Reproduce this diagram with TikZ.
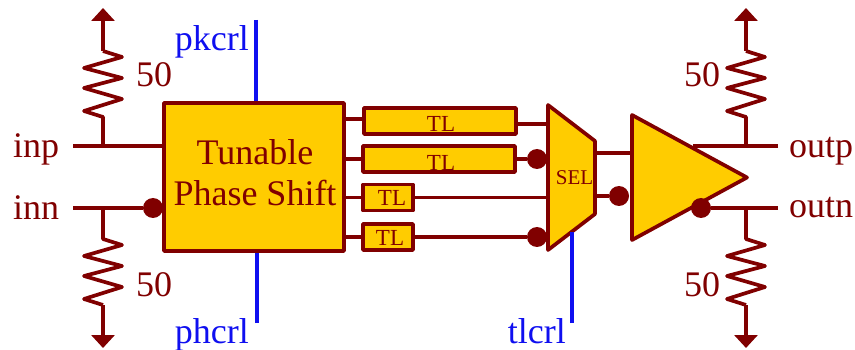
\documentclass[tikz,border=0pt]{standalone}
\usepackage{fontspec}
\setmainfont{Liberation Serif}
\usetikzlibrary{arrows.meta}
\definecolor{wirecol}{HTML}{800000}
\definecolor{boxcol}{HTML}{FFCC00}
\definecolor{ctrlcol}{HTML}{0F0FF0}
\newcommand{\reszig}{-- ++(19,6) -- ++(-38,11) -- ++(38,10) -- ++(-38,10) -- ++(38,11) -- ++(-38,12) -- ++(19,6)}
\tikzset{
  wire/.style={draw=wirecol,line width=3.7pt,line join=round},
  ctrl/.style={draw=ctrlcol,line width=3.7pt},
  rail/.style={wire,-{Triangle[width=23pt,length=13pt]}},
  block/.style={draw=wirecol,fill=boxcol,line width=3.7pt,line join=round,inner sep=0pt,text=wirecol},
  tlbox/.style={block,minimum height=26pt},
  tltext/.style={text=wirecol,anchor=base,inner sep=0pt,font=\fontsize{23}{25}\selectfont},
  dot/.style={circle,fill=wirecol,minimum size=20pt,inner sep=0pt},
  lbl/.style={text=wirecol,anchor=base west,inner sep=0pt,font=\fontsize{36}{40}\selectfont},
  ctrllbl/.style={lbl,text=ctrlcol,anchor=base east}
}
\begin{document}
\begin{tikzpicture}[x=1pt,y=-1pt]
  \useasboundingbox (0,0) rectangle (855,350);
  % blocks
  \node[block,minimum width=180pt,minimum height=148pt] (phase) at (254,177) {};
  \node[lbl,anchor=base] (tunable) at (255,165) {Tunable};
  \node[lbl,anchor=base] (shift) at (255,206) {Phase Shift};
  \node[tlbox,minimum width=152pt] (tl1) at (440,121) {};
  \node[tlbox,minimum width=152pt] (tl2) at (439,159) {};
  \node[tlbox,minimum width=50pt] (tl3) at (388,197.5) {};
  \node[tlbox,minimum width=50pt] (tl4) at (388,237) {};
  \node[tltext] (tl1t) at (441,132) {TL};
  \node[tltext] (tl2t) at (441,170.5) {TL};
  \node[tltext] (tl3t) at (392,206) {TL};
  \node[tltext] (tl4t) at (390,245) {TL};
  \coordinate (sela) at (548,105);
  \coordinate (selb) at (595,141);
  \coordinate (selc) at (595,214);
  \coordinate (seld) at (548,250);
  \draw[block] (sela) -- (selb) -- (selc) -- (seld) -- cycle;
  \node[tltext,font=\fontsize{21}{23}\selectfont] (sel) at (574.5,185) {SEL};
  \coordinate (ampa) at (632,115);
  \coordinate (ampb) at (747,177.5);
  \coordinate (ampc) at (632,240);
  \draw[block] (ampa) -- (ampb) -- (ampc) -- cycle;
  % terminals
  \node[lbl] (inp) at (13,158) {inp};
  \node[lbl] (inn) at (13,219) {inn};
  \node[lbl] (outp) at (789,158) {outp};
  \node[lbl] (outn) at (789,218) {outn};
  \node[lbl] (r1) at (136,87) {50};
  \node[lbl] (r2) at (136,296) {50};
  \node[lbl] (r3) at (684,87) {50};
  \node[lbl] (r4) at (684,296) {50};
  \node[ctrllbl] (pkcrl) at (249,51) {pkcrl};
  \node[ctrllbl] (phcrl) at (249,343) {phcrl};
  \node[ctrllbl] (tlcrl) at (566,343) {tlcrl};
  \coordinate (inpw) at (73,146);
  \coordinate (innw) at (73,208);
  \coordinate (outpw) at (778,146);
  \coordinate (outnw) at (778,208);
  \coordinate (inpj) at (103,146);
  \coordinate (innj) at (103,208);
  \coordinate (outpj) at (746,146);
  \coordinate (outnj) at (746,208);
  \coordinate (r1t) at (103,51);
  \coordinate (r2t) at (103,239);
  \coordinate (r3t) at (746,51);
  \coordinate (r4t) at (746,239);
  \coordinate (r2b) at (103,305);
  \coordinate (r4b) at (746,305);
  \coordinate (vp1) at (103,8);
  \coordinate (vp2) at (746,8);
  \coordinate (vn1) at (103,348);
  \coordinate (vn2) at (746,348);
  \coordinate (pkend) at (256,20);
  \coordinate (phend) at (257,323);
  \coordinate (tlend) at (572,323);
  \coordinate (seltap) at (572,232);
  \coordinate (ampo) at (693,146);
  \coordinate (selo) at (595,153);
  \coordinate (seln) at (595,196);
  \node[dot] (dinn) at (153,208) {};
  \node[dot] (dtl2) at (537,159) {};
  \node[dot] (dtl4) at (537,237) {};
  \node[dot] (dsel) at (619,196) {};
  \node[dot] (dout) at (701,208) {};
  % wires
  \draw[wire] (inpw) -- (inpw -| phase.west);
  \draw[wire] (innw) -- (dinn);
  \draw[wire] (outpw) -- (ampo);
  \draw[wire] (outnw) -- (dout);
  \draw[wire] (r1t) \reszig -- (inpj);
  \draw[wire] (innj) -- (r2t) \reszig;
  \draw[wire] (r3t) \reszig -- (outpj);
  \draw[wire] (outnj) -- (r4t) \reszig;
  \draw[rail] (r1t) -- (vp1);
  \draw[rail] (r3t) -- (vp2);
  \draw[rail] (r2b) -- (vn1);
  \draw[rail] (r4b) -- (vn2);
  \draw[wire] ([yshift=2pt]tl1.west) -- ([yshift=2pt]tl1.west -| phase.east);
  \draw[wire] (tl2.west) -- (tl2.west -| phase.east);
  \draw[wire] (tl3.west) -- (tl3.west -| phase.east);
  \draw[wire] (tl4.west) -- (tl4.west -| phase.east);
  \draw[wire] ([yshift=-3pt]tl1.east) -- ([yshift=-3pt]tl1.east -| sela);
  \draw[wire] (tl2.east) -- (dtl2);
  \draw[wire] (tl3.east) -- (tl3.east -| sela);
  \draw[wire] (tl4.east) -- (dtl4);
  \draw[wire] (selo) -- (selo -| ampa);
  \draw[wire] (seln) -- (dsel);
  \draw[ctrl] (pkend) -- (pkend |- phase.north);
  \draw[ctrl] (phend) -- (phend |- phase.south);
  \draw[ctrl] (tlend) -- (seltap);
\end{tikzpicture}
\end{document}
